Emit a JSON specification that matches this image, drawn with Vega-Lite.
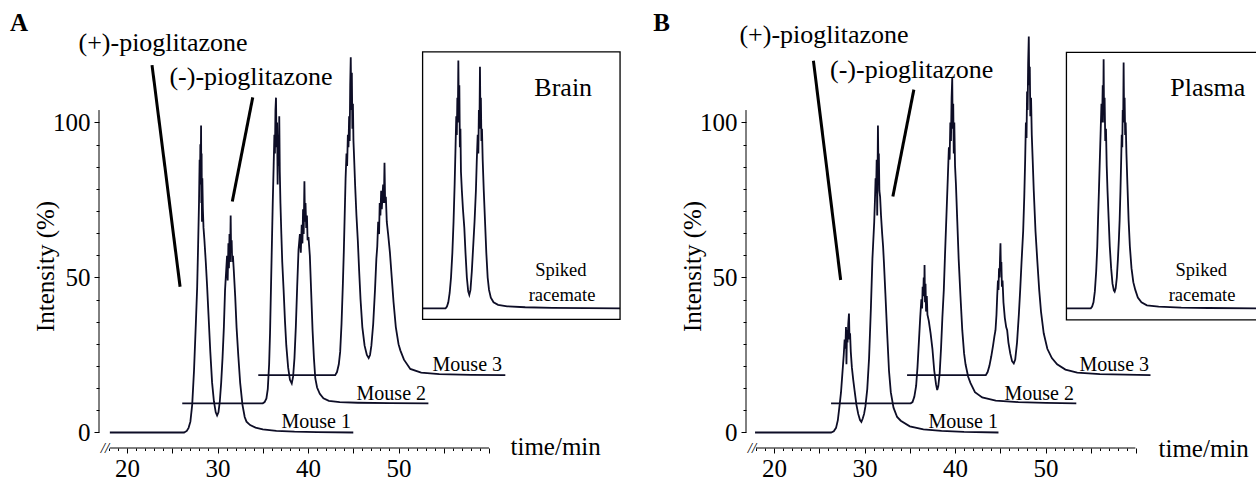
{
"$schema": "https://vega.github.io/schema/vega-lite/v6.json",
"background": "white",
"padding": {"left": 10, "top": 0, "right": 0, "bottom": 0},
"spacing": 114,
"bounds": "flush",
"config": {"view": {"stroke": null}, "font": "Liberation Serif"},
"datasets": {
"traces": [
{"p":"A","s":"M1","t":18.1,"v":0},{"p":"A","s":"M1","t":26.3,"v":0},{"p":"A","s":"M1","t":26.6,"v":0.5},{"p":"A","s":"M1","t":26.8,"v":1.5},{"p":"A","s":"M1","t":27.0,"v":3.5},{"p":"A","s":"M1","t":27.2,"v":9},{"p":"A","s":"M1","t":27.4,"v":20},{"p":"A","s":"M1","t":27.6,"v":35},{"p":"A","s":"M1","t":27.75,"v":47},{"p":"A","s":"M1","t":27.85,"v":60},{"p":"A","s":"M1","t":27.95,"v":74},{"p":"A","s":"M1","t":28.02,"v":88},{"p":"A","s":"M1","t":28.06,"v":80},{"p":"A","s":"M1","t":28.1,"v":93},{"p":"A","s":"M1","t":28.14,"v":84},{"p":"A","s":"M1","t":28.18,"v":99},{"p":"A","s":"M1","t":28.21,"v":74},{"p":"A","s":"M1","t":28.24,"v":90},{"p":"A","s":"M1","t":28.28,"v":68},{"p":"A","s":"M1","t":28.32,"v":82},{"p":"A","s":"M1","t":28.38,"v":72},{"p":"A","s":"M1","t":28.45,"v":66},{"p":"A","s":"M1","t":28.55,"v":62},{"p":"A","s":"M1","t":28.7,"v":55},{"p":"A","s":"M1","t":28.85,"v":47},{"p":"A","s":"M1","t":29.0,"v":38},{"p":"A","s":"M1","t":29.2,"v":26},{"p":"A","s":"M1","t":29.4,"v":16},{"p":"A","s":"M1","t":29.6,"v":10},{"p":"A","s":"M1","t":29.8,"v":6.5},{"p":"A","s":"M1","t":29.95,"v":5.5},{"p":"A","s":"M1","t":30.1,"v":6.5},{"p":"A","s":"M1","t":30.25,"v":10},{"p":"A","s":"M1","t":30.4,"v":16},{"p":"A","s":"M1","t":30.55,"v":24},{"p":"A","s":"M1","t":30.7,"v":34},{"p":"A","s":"M1","t":30.83,"v":46},{"p":"A","s":"M1","t":30.95,"v":52},{"p":"A","s":"M1","t":31.05,"v":57},{"p":"A","s":"M1","t":31.12,"v":49},{"p":"A","s":"M1","t":31.2,"v":61},{"p":"A","s":"M1","t":31.26,"v":53},{"p":"A","s":"M1","t":31.32,"v":64},{"p":"A","s":"M1","t":31.38,"v":55},{"p":"A","s":"M1","t":31.45,"v":70},{"p":"A","s":"M1","t":31.5,"v":58},{"p":"A","s":"M1","t":31.56,"v":62},{"p":"A","s":"M1","t":31.62,"v":55},{"p":"A","s":"M1","t":31.7,"v":57},{"p":"A","s":"M1","t":31.8,"v":52},{"p":"A","s":"M1","t":31.95,"v":44},{"p":"A","s":"M1","t":32.1,"v":34},{"p":"A","s":"M1","t":32.3,"v":24.5},{"p":"A","s":"M1","t":32.5,"v":16},{"p":"A","s":"M1","t":32.75,"v":9},{"p":"A","s":"M1","t":33.0,"v":5},{"p":"A","s":"M1","t":33.2,"v":3.5},{"p":"A","s":"M1","t":33.6,"v":2.4},{"p":"A","s":"M1","t":34.2,"v":1.6},{"p":"A","s":"M1","t":35.0,"v":1.0},{"p":"A","s":"M1","t":36.5,"v":0.55},{"p":"A","s":"M1","t":38.5,"v":0.25},{"p":"A","s":"M1","t":41.0,"v":0.1},{"p":"A","s":"M1","t":45.0,"v":0},
{"p":"A","s":"M2","t":26.1,"v":9.4},{"p":"A","s":"M2","t":35.0,"v":9.4},{"p":"A","s":"M2","t":35.2,"v":9.8},{"p":"A","s":"M2","t":35.4,"v":11},{"p":"A","s":"M2","t":35.55,"v":14},{"p":"A","s":"M2","t":35.7,"v":22},{"p":"A","s":"M2","t":35.8,"v":32},{"p":"A","s":"M2","t":35.9,"v":46},{"p":"A","s":"M2","t":36.0,"v":60},{"p":"A","s":"M2","t":36.1,"v":74},{"p":"A","s":"M2","t":36.2,"v":86},{"p":"A","s":"M2","t":36.28,"v":96},{"p":"A","s":"M2","t":36.34,"v":90},{"p":"A","s":"M2","t":36.4,"v":104},{"p":"A","s":"M2","t":36.46,"v":108},{"p":"A","s":"M2","t":36.52,"v":92},{"p":"A","s":"M2","t":36.58,"v":100},{"p":"A","s":"M2","t":36.64,"v":80},{"p":"A","s":"M2","t":36.7,"v":96},{"p":"A","s":"M2","t":36.76,"v":86},{"p":"A","s":"M2","t":36.82,"v":102},{"p":"A","s":"M2","t":36.88,"v":84},{"p":"A","s":"M2","t":36.95,"v":74},{"p":"A","s":"M2","t":37.05,"v":64},{"p":"A","s":"M2","t":37.15,"v":55},{"p":"A","s":"M2","t":37.3,"v":46},{"p":"A","s":"M2","t":37.45,"v":36},{"p":"A","s":"M2","t":37.6,"v":28},{"p":"A","s":"M2","t":37.8,"v":21},{"p":"A","s":"M2","t":38.0,"v":17},{"p":"A","s":"M2","t":38.2,"v":15.8},{"p":"A","s":"M2","t":38.35,"v":18},{"p":"A","s":"M2","t":38.5,"v":24},{"p":"A","s":"M2","t":38.65,"v":34},{"p":"A","s":"M2","t":38.8,"v":47},{"p":"A","s":"M2","t":38.95,"v":59},{"p":"A","s":"M2","t":39.1,"v":64},{"p":"A","s":"M2","t":39.2,"v":58},{"p":"A","s":"M2","t":39.3,"v":67},{"p":"A","s":"M2","t":39.38,"v":61},{"p":"A","s":"M2","t":39.45,"v":72},{"p":"A","s":"M2","t":39.52,"v":64},{"p":"A","s":"M2","t":39.6,"v":81},{"p":"A","s":"M2","t":39.66,"v":68},{"p":"A","s":"M2","t":39.72,"v":74},{"p":"A","s":"M2","t":39.8,"v":66},{"p":"A","s":"M2","t":39.88,"v":70},{"p":"A","s":"M2","t":39.95,"v":62},{"p":"A","s":"M2","t":40.05,"v":63},{"p":"A","s":"M2","t":40.2,"v":57},{"p":"A","s":"M2","t":40.35,"v":45},{"p":"A","s":"M2","t":40.5,"v":33},{"p":"A","s":"M2","t":40.65,"v":24},{"p":"A","s":"M2","t":40.8,"v":17.5},{"p":"A","s":"M2","t":41.0,"v":14.5},{"p":"A","s":"M2","t":41.3,"v":12.5},{"p":"A","s":"M2","t":41.7,"v":11},{"p":"A","s":"M2","t":42.3,"v":10.2},{"p":"A","s":"M2","t":43.5,"v":9.8},{"p":"A","s":"M2","t":45.5,"v":9.6},{"p":"A","s":"M2","t":49.0,"v":9.45},{"p":"A","s":"M2","t":53.3,"v":9.4},
{"p":"A","s":"M3","t":34.5,"v":18.5},{"p":"A","s":"M3","t":43.0,"v":18.5},{"p":"A","s":"M3","t":43.2,"v":19.5},{"p":"A","s":"M3","t":43.4,"v":22},{"p":"A","s":"M3","t":43.55,"v":26},{"p":"A","s":"M3","t":43.7,"v":35},{"p":"A","s":"M3","t":43.85,"v":48},{"p":"A","s":"M3","t":43.95,"v":58},{"p":"A","s":"M3","t":44.05,"v":70},{"p":"A","s":"M3","t":44.15,"v":82},{"p":"A","s":"M3","t":44.25,"v":90},{"p":"A","s":"M3","t":44.32,"v":86},{"p":"A","s":"M3","t":44.4,"v":96},{"p":"A","s":"M3","t":44.47,"v":92},{"p":"A","s":"M3","t":44.54,"v":102},{"p":"A","s":"M3","t":44.6,"v":94},{"p":"A","s":"M3","t":44.66,"v":112},{"p":"A","s":"M3","t":44.72,"v":121},{"p":"A","s":"M3","t":44.78,"v":104},{"p":"A","s":"M3","t":44.84,"v":116},{"p":"A","s":"M3","t":44.9,"v":98},{"p":"A","s":"M3","t":44.96,"v":106},{"p":"A","s":"M3","t":45.02,"v":94},{"p":"A","s":"M3","t":45.1,"v":88},{"p":"A","s":"M3","t":45.2,"v":80},{"p":"A","s":"M3","t":45.35,"v":70},{"p":"A","s":"M3","t":45.5,"v":62},{"p":"A","s":"M3","t":45.65,"v":52},{"p":"A","s":"M3","t":45.8,"v":43},{"p":"A","s":"M3","t":46.0,"v":34},{"p":"A","s":"M3","t":46.25,"v":28},{"p":"A","s":"M3","t":46.5,"v":25},{"p":"A","s":"M3","t":46.7,"v":24},{"p":"A","s":"M3","t":46.85,"v":25},{"p":"A","s":"M3","t":47.0,"v":28},{"p":"A","s":"M3","t":47.2,"v":35},{"p":"A","s":"M3","t":47.4,"v":46},{"p":"A","s":"M3","t":47.55,"v":56},{"p":"A","s":"M3","t":47.65,"v":60},{"p":"A","s":"M3","t":47.75,"v":68},{"p":"A","s":"M3","t":47.85,"v":64},{"p":"A","s":"M3","t":47.92,"v":74},{"p":"A","s":"M3","t":48.0,"v":70},{"p":"A","s":"M3","t":48.08,"v":78},{"p":"A","s":"M3","t":48.15,"v":72},{"p":"A","s":"M3","t":48.22,"v":76},{"p":"A","s":"M3","t":48.3,"v":80},{"p":"A","s":"M3","t":48.38,"v":74},{"p":"A","s":"M3","t":48.45,"v":87},{"p":"A","s":"M3","t":48.52,"v":74},{"p":"A","s":"M3","t":48.6,"v":76},{"p":"A","s":"M3","t":48.7,"v":68},{"p":"A","s":"M3","t":48.85,"v":64},{"p":"A","s":"M3","t":49.05,"v":58},{"p":"A","s":"M3","t":49.25,"v":50},{"p":"A","s":"M3","t":49.45,"v":42},{"p":"A","s":"M3","t":49.7,"v":34},{"p":"A","s":"M3","t":50.0,"v":28.5},{"p":"A","s":"M3","t":50.2,"v":26.5},{"p":"A","s":"M3","t":50.6,"v":23.5},{"p":"A","s":"M3","t":51.3,"v":20.5},{"p":"A","s":"M3","t":52.5,"v":19.3},{"p":"A","s":"M3","t":54.5,"v":18.8},{"p":"A","s":"M3","t":58.0,"v":18.6},{"p":"A","s":"M3","t":61.8,"v":18.5},
{"p":"A","s":"S","t":52.66,"v":40.05},{"p":"A","s":"S","t":55.2,"v":40.05},{"p":"A","s":"S","t":55.35,"v":40.6},{"p":"A","s":"S","t":55.5,"v":42},{"p":"A","s":"S","t":55.65,"v":45},{"p":"A","s":"S","t":55.8,"v":50},{"p":"A","s":"S","t":55.95,"v":58},{"p":"A","s":"S","t":56.08,"v":68},{"p":"A","s":"S","t":56.2,"v":80},{"p":"A","s":"S","t":56.3,"v":92},{"p":"A","s":"S","t":56.38,"v":102},{"p":"A","s":"S","t":56.44,"v":96},{"p":"A","s":"S","t":56.5,"v":108},{"p":"A","s":"S","t":56.55,"v":100},{"p":"A","s":"S","t":56.61,"v":120},{"p":"A","s":"S","t":56.66,"v":104},{"p":"A","s":"S","t":56.72,"v":112},{"p":"A","s":"S","t":56.78,"v":92},{"p":"A","s":"S","t":56.84,"v":98},{"p":"A","s":"S","t":56.9,"v":84},{"p":"A","s":"S","t":57.0,"v":78},{"p":"A","s":"S","t":57.12,"v":72},{"p":"A","s":"S","t":57.27,"v":66},{"p":"A","s":"S","t":57.4,"v":58},{"p":"A","s":"S","t":57.55,"v":50},{"p":"A","s":"S","t":57.7,"v":45.5},{"p":"A","s":"S","t":57.82,"v":44.4},{"p":"A","s":"S","t":57.95,"v":46},{"p":"A","s":"S","t":58.1,"v":52},{"p":"A","s":"S","t":58.25,"v":60},{"p":"A","s":"S","t":58.4,"v":68},{"p":"A","s":"S","t":58.55,"v":78},{"p":"A","s":"S","t":58.65,"v":88},{"p":"A","s":"S","t":58.75,"v":96},{"p":"A","s":"S","t":58.82,"v":90},{"p":"A","s":"S","t":58.88,"v":104},{"p":"A","s":"S","t":58.94,"v":98},{"p":"A","s":"S","t":59.0,"v":118},{"p":"A","s":"S","t":59.05,"v":100},{"p":"A","s":"S","t":59.1,"v":108},{"p":"A","s":"S","t":59.16,"v":94},{"p":"A","s":"S","t":59.22,"v":98},{"p":"A","s":"S","t":59.3,"v":88},{"p":"A","s":"S","t":59.42,"v":78},{"p":"A","s":"S","t":59.56,"v":68},{"p":"A","s":"S","t":59.7,"v":58},{"p":"A","s":"S","t":59.85,"v":50},{"p":"A","s":"S","t":60.0,"v":46},{"p":"A","s":"S","t":60.2,"v":43.5},{"p":"A","s":"S","t":60.5,"v":42},{"p":"A","s":"S","t":61.0,"v":41.2},{"p":"A","s":"S","t":62.0,"v":40.7},{"p":"A","s":"S","t":64.0,"v":40.4},{"p":"A","s":"S","t":67.0,"v":40.2},{"p":"A","s":"S","t":74.48,"v":40.05},
{"p":"B","s":"M1","t":17.9,"v":0},{"p":"B","s":"M1","t":26.3,"v":0},{"p":"B","s":"M1","t":26.6,"v":0.4},{"p":"B","s":"M1","t":26.85,"v":1.5},{"p":"B","s":"M1","t":27.05,"v":4},{"p":"B","s":"M1","t":27.25,"v":9},{"p":"B","s":"M1","t":27.4,"v":13},{"p":"B","s":"M1","t":27.55,"v":19},{"p":"B","s":"M1","t":27.7,"v":25},{"p":"B","s":"M1","t":27.8,"v":30},{"p":"B","s":"M1","t":27.88,"v":27},{"p":"B","s":"M1","t":27.95,"v":34},{"p":"B","s":"M1","t":28.0,"v":22},{"p":"B","s":"M1","t":28.06,"v":33},{"p":"B","s":"M1","t":28.12,"v":29},{"p":"B","s":"M1","t":28.2,"v":35},{"p":"B","s":"M1","t":28.28,"v":38.4},{"p":"B","s":"M1","t":28.34,"v":30},{"p":"B","s":"M1","t":28.4,"v":32},{"p":"B","s":"M1","t":28.48,"v":26},{"p":"B","s":"M1","t":28.6,"v":21},{"p":"B","s":"M1","t":28.75,"v":17},{"p":"B","s":"M1","t":28.9,"v":13.5},{"p":"B","s":"M1","t":29.1,"v":9},{"p":"B","s":"M1","t":29.3,"v":6},{"p":"B","s":"M1","t":29.5,"v":4},{"p":"B","s":"M1","t":29.65,"v":3.4},{"p":"B","s":"M1","t":29.8,"v":4.5},{"p":"B","s":"M1","t":29.95,"v":6},{"p":"B","s":"M1","t":30.1,"v":8.5},{"p":"B","s":"M1","t":30.3,"v":14},{"p":"B","s":"M1","t":30.5,"v":24},{"p":"B","s":"M1","t":30.7,"v":40},{"p":"B","s":"M1","t":30.87,"v":56},{"p":"B","s":"M1","t":30.97,"v":62},{"p":"B","s":"M1","t":31.07,"v":68},{"p":"B","s":"M1","t":31.15,"v":75},{"p":"B","s":"M1","t":31.22,"v":82},{"p":"B","s":"M1","t":31.28,"v":78},{"p":"B","s":"M1","t":31.34,"v":88},{"p":"B","s":"M1","t":31.4,"v":70},{"p":"B","s":"M1","t":31.44,"v":84},{"p":"B","s":"M1","t":31.48,"v":99},{"p":"B","s":"M1","t":31.53,"v":86},{"p":"B","s":"M1","t":31.58,"v":90},{"p":"B","s":"M1","t":31.64,"v":78},{"p":"B","s":"M1","t":31.72,"v":76},{"p":"B","s":"M1","t":31.82,"v":70},{"p":"B","s":"M1","t":31.95,"v":64},{"p":"B","s":"M1","t":32.05,"v":60},{"p":"B","s":"M1","t":32.14,"v":55},{"p":"B","s":"M1","t":32.3,"v":45},{"p":"B","s":"M1","t":32.5,"v":32},{"p":"B","s":"M1","t":32.7,"v":20},{"p":"B","s":"M1","t":32.9,"v":13},{"p":"B","s":"M1","t":33.2,"v":8},{"p":"B","s":"M1","t":33.6,"v":5},{"p":"B","s":"M1","t":34.0,"v":3.8},{"p":"B","s":"M1","t":35.0,"v":2},{"p":"B","s":"M1","t":36.5,"v":1},{"p":"B","s":"M1","t":38.5,"v":0.5},{"p":"B","s":"M1","t":41.0,"v":0.2},{"p":"B","s":"M1","t":44.8,"v":0},
{"p":"B","s":"M2","t":26.3,"v":9.4},{"p":"B","s":"M2","t":35.1,"v":9.4},{"p":"B","s":"M2","t":35.3,"v":9.8},{"p":"B","s":"M2","t":35.5,"v":11.5},{"p":"B","s":"M2","t":35.7,"v":15},{"p":"B","s":"M2","t":35.85,"v":21},{"p":"B","s":"M2","t":36.0,"v":29},{"p":"B","s":"M2","t":36.15,"v":37},{"p":"B","s":"M2","t":36.28,"v":43},{"p":"B","s":"M2","t":36.36,"v":40},{"p":"B","s":"M2","t":36.42,"v":47},{"p":"B","s":"M2","t":36.48,"v":44},{"p":"B","s":"M2","t":36.54,"v":50},{"p":"B","s":"M2","t":36.6,"v":45},{"p":"B","s":"M2","t":36.63,"v":54},{"p":"B","s":"M2","t":36.68,"v":42},{"p":"B","s":"M2","t":36.74,"v":48},{"p":"B","s":"M2","t":36.8,"v":39},{"p":"B","s":"M2","t":36.88,"v":44},{"p":"B","s":"M2","t":36.95,"v":38},{"p":"B","s":"M2","t":37.1,"v":36},{"p":"B","s":"M2","t":37.3,"v":32},{"p":"B","s":"M2","t":37.5,"v":27},{"p":"B","s":"M2","t":37.7,"v":20},{"p":"B","s":"M2","t":37.9,"v":15.5},{"p":"B","s":"M2","t":38.03,"v":13.7},{"p":"B","s":"M2","t":38.15,"v":15},{"p":"B","s":"M2","t":38.3,"v":19},{"p":"B","s":"M2","t":38.45,"v":27},{"p":"B","s":"M2","t":38.6,"v":37},{"p":"B","s":"M2","t":38.76,"v":46},{"p":"B","s":"M2","t":38.9,"v":58},{"p":"B","s":"M2","t":39.05,"v":70},{"p":"B","s":"M2","t":39.2,"v":82},{"p":"B","s":"M2","t":39.32,"v":92},{"p":"B","s":"M2","t":39.4,"v":88},{"p":"B","s":"M2","t":39.48,"v":100},{"p":"B","s":"M2","t":39.55,"v":94},{"p":"B","s":"M2","t":39.62,"v":108},{"p":"B","s":"M2","t":39.69,"v":114.3},{"p":"B","s":"M2","t":39.74,"v":98},{"p":"B","s":"M2","t":39.8,"v":106},{"p":"B","s":"M2","t":39.86,"v":90},{"p":"B","s":"M2","t":39.92,"v":100},{"p":"B","s":"M2","t":40.0,"v":86},{"p":"B","s":"M2","t":40.1,"v":80},{"p":"B","s":"M2","t":40.25,"v":68},{"p":"B","s":"M2","t":40.4,"v":56},{"p":"B","s":"M2","t":40.6,"v":44},{"p":"B","s":"M2","t":40.8,"v":33},{"p":"B","s":"M2","t":41.0,"v":25.5},{"p":"B","s":"M2","t":41.16,"v":22},{"p":"B","s":"M2","t":41.45,"v":18},{"p":"B","s":"M2","t":41.7,"v":16},{"p":"B","s":"M2","t":42.2,"v":13},{"p":"B","s":"M2","t":43.0,"v":11.3},{"p":"B","s":"M2","t":44.5,"v":10.3},{"p":"B","s":"M2","t":47.0,"v":9.8},{"p":"B","s":"M2","t":50.0,"v":9.55},{"p":"B","s":"M2","t":53.4,"v":9.4},
{"p":"B","s":"M3","t":34.7,"v":18.5},{"p":"B","s":"M3","t":43.4,"v":18.5},{"p":"B","s":"M3","t":43.6,"v":19.5},{"p":"B","s":"M3","t":43.8,"v":21.5},{"p":"B","s":"M3","t":44.0,"v":24.5},{"p":"B","s":"M3","t":44.2,"v":28},{"p":"B","s":"M3","t":44.35,"v":31},{"p":"B","s":"M3","t":44.47,"v":33},{"p":"B","s":"M3","t":44.58,"v":38},{"p":"B","s":"M3","t":44.66,"v":44},{"p":"B","s":"M3","t":44.74,"v":49},{"p":"B","s":"M3","t":44.8,"v":46},{"p":"B","s":"M3","t":44.86,"v":53},{"p":"B","s":"M3","t":44.92,"v":50},{"p":"B","s":"M3","t":44.97,"v":56},{"p":"B","s":"M3","t":45.02,"v":61},{"p":"B","s":"M3","t":45.07,"v":52},{"p":"B","s":"M3","t":45.12,"v":55},{"p":"B","s":"M3","t":45.18,"v":47},{"p":"B","s":"M3","t":45.25,"v":49},{"p":"B","s":"M3","t":45.35,"v":42},{"p":"B","s":"M3","t":45.5,"v":37},{"p":"B","s":"M3","t":45.65,"v":34},{"p":"B","s":"M3","t":45.76,"v":33},{"p":"B","s":"M3","t":45.9,"v":29},{"p":"B","s":"M3","t":46.1,"v":25.5},{"p":"B","s":"M3","t":46.3,"v":23},{"p":"B","s":"M3","t":46.49,"v":22.3},{"p":"B","s":"M3","t":46.65,"v":23.5},{"p":"B","s":"M3","t":46.85,"v":29},{"p":"B","s":"M3","t":47.05,"v":38},{"p":"B","s":"M3","t":47.2,"v":46},{"p":"B","s":"M3","t":47.35,"v":55},{"p":"B","s":"M3","t":47.53,"v":65},{"p":"B","s":"M3","t":47.65,"v":76},{"p":"B","s":"M3","t":47.75,"v":88},{"p":"B","s":"M3","t":47.83,"v":100},{"p":"B","s":"M3","t":47.9,"v":95},{"p":"B","s":"M3","t":47.96,"v":110},{"p":"B","s":"M3","t":48.02,"v":104},{"p":"B","s":"M3","t":48.08,"v":119},{"p":"B","s":"M3","t":48.15,"v":127.7},{"p":"B","s":"M3","t":48.2,"v":112},{"p":"B","s":"M3","t":48.26,"v":118},{"p":"B","s":"M3","t":48.32,"v":102},{"p":"B","s":"M3","t":48.4,"v":108},{"p":"B","s":"M3","t":48.48,"v":96},{"p":"B","s":"M3","t":48.58,"v":88},{"p":"B","s":"M3","t":48.7,"v":78},{"p":"B","s":"M3","t":48.89,"v":65},{"p":"B","s":"M3","t":49.1,"v":55},{"p":"B","s":"M3","t":49.3,"v":46},{"p":"B","s":"M3","t":49.5,"v":39},{"p":"B","s":"M3","t":49.8,"v":32},{"p":"B","s":"M3","t":50.2,"v":27},{"p":"B","s":"M3","t":50.7,"v":24},{"p":"B","s":"M3","t":51.28,"v":22},{"p":"B","s":"M3","t":52.2,"v":20.3},{"p":"B","s":"M3","t":53.5,"v":19.3},{"p":"B","s":"M3","t":56.0,"v":18.8},{"p":"B","s":"M3","t":61.6,"v":18.5},
{"p":"B","s":"S","t":52.31,"v":40.05},{"p":"B","s":"S","t":55.0,"v":40.05},{"p":"B","s":"S","t":55.15,"v":40.6},{"p":"B","s":"S","t":55.3,"v":42},{"p":"B","s":"S","t":55.45,"v":45.5},{"p":"B","s":"S","t":55.6,"v":52},{"p":"B","s":"S","t":55.72,"v":60},{"p":"B","s":"S","t":55.8,"v":68.5},{"p":"B","s":"S","t":55.9,"v":78},{"p":"B","s":"S","t":56.0,"v":88},{"p":"B","s":"S","t":56.1,"v":98},{"p":"B","s":"S","t":56.18,"v":106},{"p":"B","s":"S","t":56.25,"v":100},{"p":"B","s":"S","t":56.32,"v":112},{"p":"B","s":"S","t":56.38,"v":104},{"p":"B","s":"S","t":56.42,"v":120.4},{"p":"B","s":"S","t":56.47,"v":100},{"p":"B","s":"S","t":56.53,"v":108},{"p":"B","s":"S","t":56.6,"v":94},{"p":"B","s":"S","t":56.68,"v":98},{"p":"B","s":"S","t":56.76,"v":86},{"p":"B","s":"S","t":56.85,"v":78},{"p":"B","s":"S","t":56.98,"v":68.5},{"p":"B","s":"S","t":57.1,"v":60},{"p":"B","s":"S","t":57.25,"v":53},{"p":"B","s":"S","t":57.4,"v":48},{"p":"B","s":"S","t":57.55,"v":45.8},{"p":"B","s":"S","t":57.64,"v":45.4},{"p":"B","s":"S","t":57.75,"v":46.5},{"p":"B","s":"S","t":57.88,"v":50},{"p":"B","s":"S","t":58.0,"v":56},{"p":"B","s":"S","t":58.1,"v":62},{"p":"B","s":"S","t":58.19,"v":68.5},{"p":"B","s":"S","t":58.28,"v":78},{"p":"B","s":"S","t":58.36,"v":88},{"p":"B","s":"S","t":58.42,"v":96},{"p":"B","s":"S","t":58.48,"v":92},{"p":"B","s":"S","t":58.53,"v":104},{"p":"B","s":"S","t":58.58,"v":100},{"p":"B","s":"S","t":58.63,"v":119.3},{"p":"B","s":"S","t":58.68,"v":102},{"p":"B","s":"S","t":58.74,"v":108},{"p":"B","s":"S","t":58.8,"v":96},{"p":"B","s":"S","t":58.86,"v":100},{"p":"B","s":"S","t":58.94,"v":90},{"p":"B","s":"S","t":59.05,"v":80},{"p":"B","s":"S","t":59.18,"v":68.5},{"p":"B","s":"S","t":59.32,"v":60},{"p":"B","s":"S","t":59.5,"v":53},{"p":"B","s":"S","t":59.7,"v":48.5},{"p":"B","s":"S","t":59.92,"v":46},{"p":"B","s":"S","t":60.2,"v":43.5},{"p":"B","s":"S","t":60.6,"v":42},{"p":"B","s":"S","t":61.2,"v":41},{"p":"B","s":"S","t":62.5,"v":40.6},{"p":"B","s":"S","t":65.0,"v":40.3},{"p":"B","s":"S","t":68.0,"v":40.15},{"p":"B","s":"S","t":74.13,"v":40.05}
],
"notes": [
{"p":"A","k":"big","txt":"(+)-pioglitazone","t":23.98,"v":125.6},
{"p":"A","k":"big","txt":"(-)-pioglitazone","t":33.7,"v":114.7},
{"p":"A","k":"big","txt":"Brain","t":68.2,"v":111},
{"p":"A","k":"mouse","txt":"Mouse 1","t":40.9,"v":1.4},
{"p":"A","k":"mouse","txt":"Mouse 2","t":49.2,"v":10.6},
{"p":"A","k":"mouse","txt":"Mouse 3","t":57.6,"v":19.7},
{"p":"A","k":"small","txt":"Spiked","t":67.94,"v":52.4},
{"p":"A","k":"small","txt":"racemate","t":68.07,"v":44.4},
{"p":"A","k":"letter","txt":"A","t":7.07,"v":132.1},
{"p":"A","k":"brk","txt":"//","t":17.55,"v":-5},
{"p":"B","k":"big","txt":"(+)-pioglitazone","t":25.52,"v":128.2},
{"p":"B","k":"big","txt":"(-)-pioglitazone","t":35.2,"v":116.9},
{"p":"B","k":"big","txt":"Plasma","t":67.93,"v":111},
{"p":"B","k":"mouse","txt":"Mouse 1","t":40.9,"v":1.4},
{"p":"B","k":"mouse","txt":"Mouse 2","t":49.3,"v":10.6},
{"p":"B","k":"mouse","txt":"Mouse 3","t":57.6,"v":19.8},
{"p":"B","k":"small","txt":"Spiked","t":67.2,"v":52.4},
{"p":"B","k":"small","txt":"racemate","t":67.3,"v":44.4},
{"p":"B","k":"letter","txt":"B","t":6.66,"v":132.1},
{"p":"B","k":"brk","txt":"//","t":17.55,"v":-5}
],
"segs": [
{"p":"A","k":"ptr","t":22.76,"v":118.5,"t2":25.86,"v2":47.0},
{"p":"A","k":"ptr","t":33.89,"v":108.1,"t2":31.63,"v2":74.5},
{"p":"A","k":"axis","t":18.1,"v":-5,"t2":60.0,"v2":-5},
{"p":"A","k":"axis","t":16.9,"v":0,"t2":16.9,"v2":104},
{"p":"A","k":"box","t":52.66,"v":36.5,"t2":74.48,"v2":122.8},
{"p":"B","k":"ptr","t":24.35,"v":119.9,"t2":27.36,"v2":49.2},
{"p":"B","k":"ptr","t":35.45,"v":110.6,"t2":33.13,"v2":76.1},
{"p":"B","k":"axis","t":18.0,"v":-5,"t2":59.93,"v2":-5},
{"p":"B","k":"axis","t":16.9,"v":0,"t2":16.9,"v2":104},
{"p":"B","k":"box","t":52.31,"v":36.3,"t2":74.13,"v2":122.6}
]
},
"hconcat": [
{
"width": 533, "height": 448,
"resolve": {"axis": {"x": "independent", "y": "independent"}},
"layer": [
{"data": {"name": "traces"}, "transform": [{"filter": "datum.p === 'A'"}],
 "mark": {"type": "line", "color": "#0d0d26", "strokeWidth": 1.8},
 "encoding": {
  "x": {"field": "t", "type": "quantitative", "scale": {"domain": [16.9, 75.8], "nice": false, "zero": false},
   "axis": {"title": "time/min", "values": [18,19,20,21,22,23,24,25,26,27,28,29,30,31,32,33,34,35,36,37,38,39,40,41,42,43,44,45,46,47,48,49,50,51,52,53,54,55,56,57,58,59,60],
    "labelExpr": "datum.value % 10 === 0 && datum.value < 60 ? datum.label : ''", "labelOverlap": false, "labelFlush": false,
    "domain": false, "grid": false, "tickColor": "#000", "tickWidth": 1,
    "tickSize": {"condition": {"test": "datum.value % 5 === 0", "value": 5}, "value": 2.5},
    "labelFontSize": 25, "labelColor": "#000", "labelPadding": 3,
    "titleFontSize": 25, "titleFontWeight": "normal", "titleColor": "#000",
    "titleX": 411, "titleY": -2, "titleAlign": "left", "titleBaseline": "middle", "titleAngle": 0}},
  "y": {"field": "v", "type": "quantitative", "scale": {"domain": [-5, 139.5], "nice": false, "zero": false},
   "axis": {"title": "Intensity (%)", "values": [0,7.1429,14.2857,21.4286,28.5714,35.7143,42.8571,50,57.1429,64.2857,71.4286,78.5714,85.7143,92.8571,100],
    "labelExpr": "datum.value === 0 || datum.value === 50 || datum.value === 100 ? datum.label : ''", "labelOverlap": false,
    "domain": false, "grid": false, "tickColor": "#000",
    "tickSize": {"condition": {"test": "datum.value % 50 === 0", "value": 5}, "value": 3},
    "labelFontSize": 25, "labelColor": "#000", "labelPadding": 4,
    "titleFontSize": 25, "titleFontWeight": "normal", "titleColor": "#000",
    "titleX": -54, "titleY": 266, "titleAlign": "center", "titleBaseline": "middle", "titleAngle": 270}},
  "detail": {"field": "s"}}},
{"data": {"name": "segs"}, "transform": [{"filter": "datum.p === 'A' && datum.k === 'ptr'"}],
 "mark": {"type": "rule", "color": "#000", "strokeWidth": 3},
 "encoding": {"x": {"field": "t", "type": "quantitative", "scale": {"domain": [16.9, 75.8], "nice": false, "zero": false}, "axis": null},
  "y": {"field": "v", "type": "quantitative", "scale": {"domain": [-5, 139.5], "nice": false, "zero": false}, "axis": null},
  "x2": {"field": "t2"}, "y2": {"field": "v2"}}},
{"data": {"name": "segs"}, "transform": [{"filter": "datum.p === 'A' && datum.k === 'axis'"}],
 "mark": {"type": "rule", "color": "#000", "strokeWidth": 1},
 "encoding": {"x": {"field": "t", "type": "quantitative", "scale": {"domain": [16.9, 75.8], "nice": false, "zero": false}, "axis": null},
  "y": {"field": "v", "type": "quantitative", "scale": {"domain": [-5, 139.5], "nice": false, "zero": false}, "axis": null},
  "x2": {"field": "t2"}, "y2": {"field": "v2"}}},
{"data": {"name": "segs"}, "transform": [{"filter": "datum.p === 'A' && datum.k === 'box'"}],
 "mark": {"type": "rect", "fill": null, "fillOpacity": 0, "stroke": "#000", "strokeWidth": 1.3},
 "encoding": {"x": {"field": "t", "type": "quantitative", "scale": {"domain": [16.9, 75.8], "nice": false, "zero": false}, "axis": null},
  "y": {"field": "v", "type": "quantitative", "scale": {"domain": [-5, 139.5], "nice": false, "zero": false}, "axis": null},
  "x2": {"field": "t2"}, "y2": {"field": "v2"}}},
{"data": {"name": "notes"}, "transform": [{"filter": "datum.p === 'A' && datum.k === 'big'"}],
 "mark": {"type": "text", "fontSize": 26, "align": "center", "baseline": "middle", "color": "#000"},
 "encoding": {"x": {"field": "t", "type": "quantitative", "scale": {"domain": [16.9, 75.8], "nice": false, "zero": false}, "axis": null},
  "y": {"field": "v", "type": "quantitative", "scale": {"domain": [-5, 139.5], "nice": false, "zero": false}, "axis": null},
  "text": {"field": "txt"}}},
{"data": {"name": "notes"}, "transform": [{"filter": "datum.p === 'A' && datum.k === 'mouse'"}],
 "mark": {"type": "text", "fontSize": 20, "align": "center", "baseline": "alphabetic", "color": "#000"},
 "encoding": {"x": {"field": "t", "type": "quantitative", "scale": {"domain": [16.9, 75.8], "nice": false, "zero": false}, "axis": null},
  "y": {"field": "v", "type": "quantitative", "scale": {"domain": [-5, 139.5], "nice": false, "zero": false}, "axis": null},
  "text": {"field": "txt"}}},
{"data": {"name": "notes"}, "transform": [{"filter": "datum.p === 'A' && datum.k === 'small'"}],
 "mark": {"type": "text", "fontSize": 18.5, "align": "center", "baseline": "middle", "color": "#000"},
 "encoding": {"x": {"field": "t", "type": "quantitative", "scale": {"domain": [16.9, 75.8], "nice": false, "zero": false}, "axis": null},
  "y": {"field": "v", "type": "quantitative", "scale": {"domain": [-5, 139.5], "nice": false, "zero": false}, "axis": null},
  "text": {"field": "txt"}}},
{"data": {"name": "notes"}, "transform": [{"filter": "datum.p === 'A' && datum.k === 'letter'"}],
 "mark": {"type": "text", "fontSize": 25, "fontWeight": "bold", "align": "left", "baseline": "middle", "color": "#000"},
 "encoding": {"x": {"field": "t", "type": "quantitative", "scale": {"domain": [16.9, 75.8], "nice": false, "zero": false}, "axis": null},
  "y": {"field": "v", "type": "quantitative", "scale": {"domain": [-5, 139.5], "nice": false, "zero": false}, "axis": null},
  "text": {"field": "txt"}}},
{"data": {"name": "notes"}, "transform": [{"filter": "datum.p === 'A' && datum.k === 'brk'"}],
 "mark": {"type": "text", "fontSize": 15, "align": "center", "baseline": "middle", "color": "#000", "fontStyle": "italic"},
 "encoding": {"x": {"field": "t", "type": "quantitative", "scale": {"domain": [16.9, 75.8], "nice": false, "zero": false}, "axis": null},
  "y": {"field": "v", "type": "quantitative", "scale": {"domain": [-5, 139.5], "nice": false, "zero": false}, "axis": null},
  "text": {"field": "txt"}}}
]
},
{
"width": 533, "height": 448,
"resolve": {"axis": {"x": "independent", "y": "independent"}},
"layer": [
{"data": {"name": "traces"}, "transform": [{"filter": "datum.p === 'B'"}],
 "mark": {"type": "line", "color": "#0d0d26", "strokeWidth": 1.8},
 "encoding": {
  "x": {"field": "t", "type": "quantitative", "scale": {"domain": [16.9, 75.8], "nice": false, "zero": false},
   "axis": {"title": "time/min", "values": [18,19,20,21,22,23,24,25,26,27,28,29,30,31,32,33,34,35,36,37,38,39,40,41,42,43,44,45,46,47,48,49,50,51,52,53,54,55,56,57,58,59,60],
    "labelExpr": "datum.value % 10 === 0 && datum.value < 60 ? datum.label : ''", "labelOverlap": false, "labelFlush": false,
    "domain": false, "grid": false, "tickColor": "#000", "tickWidth": 1,
    "tickSize": {"condition": {"test": "datum.value % 5 === 0", "value": 5}, "value": 2.5},
    "labelFontSize": 25, "labelColor": "#000", "labelPadding": 3,
    "titleFontSize": 25, "titleFontWeight": "normal", "titleColor": "#000",
    "titleX": 412, "titleY": 0, "titleAlign": "left", "titleBaseline": "middle", "titleAngle": 0}},
  "y": {"field": "v", "type": "quantitative", "scale": {"domain": [-5, 139.5], "nice": false, "zero": false},
   "axis": {"title": "Intensity (%)", "values": [0,7.1429,14.2857,21.4286,28.5714,35.7143,42.8571,50,57.1429,64.2857,71.4286,78.5714,85.7143,92.8571,100],
    "labelExpr": "datum.value === 0 || datum.value === 50 || datum.value === 100 ? datum.label : ''", "labelOverlap": false,
    "domain": false, "grid": false, "tickColor": "#000",
    "tickSize": {"condition": {"test": "datum.value % 50 === 0", "value": 5}, "value": 3},
    "labelFontSize": 25, "labelColor": "#000", "labelPadding": 4,
    "titleFontSize": 25, "titleFontWeight": "normal", "titleColor": "#000",
    "titleX": -54, "titleY": 266, "titleAlign": "center", "titleBaseline": "middle", "titleAngle": 270}},
  "detail": {"field": "s"}}},
{"data": {"name": "segs"}, "transform": [{"filter": "datum.p === 'B' && datum.k === 'ptr'"}],
 "mark": {"type": "rule", "color": "#000", "strokeWidth": 3},
 "encoding": {"x": {"field": "t", "type": "quantitative", "scale": {"domain": [16.9, 75.8], "nice": false, "zero": false}, "axis": null},
  "y": {"field": "v", "type": "quantitative", "scale": {"domain": [-5, 139.5], "nice": false, "zero": false}, "axis": null},
  "x2": {"field": "t2"}, "y2": {"field": "v2"}}},
{"data": {"name": "segs"}, "transform": [{"filter": "datum.p === 'B' && datum.k === 'axis'"}],
 "mark": {"type": "rule", "color": "#000", "strokeWidth": 1},
 "encoding": {"x": {"field": "t", "type": "quantitative", "scale": {"domain": [16.9, 75.8], "nice": false, "zero": false}, "axis": null},
  "y": {"field": "v", "type": "quantitative", "scale": {"domain": [-5, 139.5], "nice": false, "zero": false}, "axis": null},
  "x2": {"field": "t2"}, "y2": {"field": "v2"}}},
{"data": {"name": "segs"}, "transform": [{"filter": "datum.p === 'B' && datum.k === 'box'"}],
 "mark": {"type": "rect", "fill": null, "fillOpacity": 0, "stroke": "#000", "strokeWidth": 1.3},
 "encoding": {"x": {"field": "t", "type": "quantitative", "scale": {"domain": [16.9, 75.8], "nice": false, "zero": false}, "axis": null},
  "y": {"field": "v", "type": "quantitative", "scale": {"domain": [-5, 139.5], "nice": false, "zero": false}, "axis": null},
  "x2": {"field": "t2"}, "y2": {"field": "v2"}}},
{"data": {"name": "notes"}, "transform": [{"filter": "datum.p === 'B' && datum.k === 'big'"}],
 "mark": {"type": "text", "fontSize": 26, "align": "center", "baseline": "middle", "color": "#000"},
 "encoding": {"x": {"field": "t", "type": "quantitative", "scale": {"domain": [16.9, 75.8], "nice": false, "zero": false}, "axis": null},
  "y": {"field": "v", "type": "quantitative", "scale": {"domain": [-5, 139.5], "nice": false, "zero": false}, "axis": null},
  "text": {"field": "txt"}}},
{"data": {"name": "notes"}, "transform": [{"filter": "datum.p === 'B' && datum.k === 'mouse'"}],
 "mark": {"type": "text", "fontSize": 20, "align": "center", "baseline": "alphabetic", "color": "#000"},
 "encoding": {"x": {"field": "t", "type": "quantitative", "scale": {"domain": [16.9, 75.8], "nice": false, "zero": false}, "axis": null},
  "y": {"field": "v", "type": "quantitative", "scale": {"domain": [-5, 139.5], "nice": false, "zero": false}, "axis": null},
  "text": {"field": "txt"}}},
{"data": {"name": "notes"}, "transform": [{"filter": "datum.p === 'B' && datum.k === 'small'"}],
 "mark": {"type": "text", "fontSize": 18.5, "align": "center", "baseline": "middle", "color": "#000"},
 "encoding": {"x": {"field": "t", "type": "quantitative", "scale": {"domain": [16.9, 75.8], "nice": false, "zero": false}, "axis": null},
  "y": {"field": "v", "type": "quantitative", "scale": {"domain": [-5, 139.5], "nice": false, "zero": false}, "axis": null},
  "text": {"field": "txt"}}},
{"data": {"name": "notes"}, "transform": [{"filter": "datum.p === 'B' && datum.k === 'letter'"}],
 "mark": {"type": "text", "fontSize": 25, "fontWeight": "bold", "align": "left", "baseline": "middle", "color": "#000"},
 "encoding": {"x": {"field": "t", "type": "quantitative", "scale": {"domain": [16.9, 75.8], "nice": false, "zero": false}, "axis": null},
  "y": {"field": "v", "type": "quantitative", "scale": {"domain": [-5, 139.5], "nice": false, "zero": false}, "axis": null},
  "text": {"field": "txt"}}},
{"data": {"name": "notes"}, "transform": [{"filter": "datum.p === 'B' && datum.k === 'brk'"}],
 "mark": {"type": "text", "fontSize": 15, "align": "center", "baseline": "middle", "color": "#000", "fontStyle": "italic"},
 "encoding": {"x": {"field": "t", "type": "quantitative", "scale": {"domain": [16.9, 75.8], "nice": false, "zero": false}, "axis": null},
  "y": {"field": "v", "type": "quantitative", "scale": {"domain": [-5, 139.5], "nice": false, "zero": false}, "axis": null},
  "text": {"field": "txt"}}}
]
}
]
}
